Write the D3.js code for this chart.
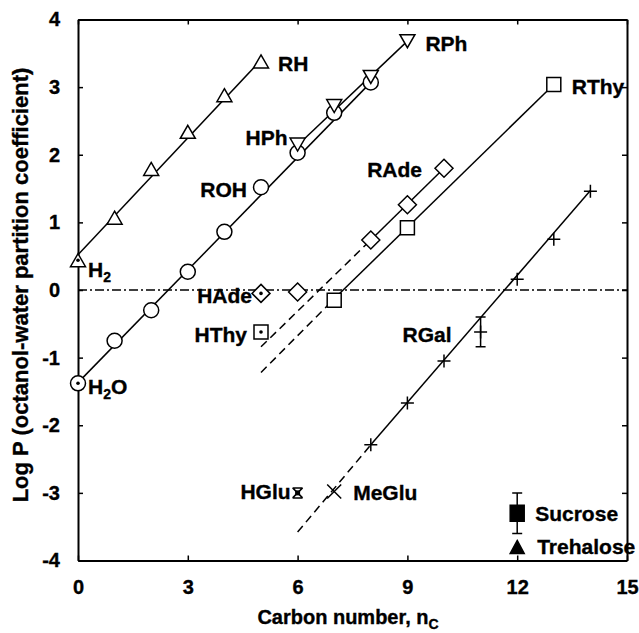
<!DOCTYPE html>
<html>
<head>
<meta charset="utf-8">
<script src="https://cdn.jsdelivr.net/npm/d3@7"></script>
<style>
body { margin: 0; background: #fff; }
text { font-family: "Liberation Sans", Arial, sans-serif; font-weight: bold; fill: #000; stroke: #000; stroke-width: 0.35; }
</style>
</head>
<body>
<div id="container"></div>
<script>
const width = 639;
const height = 633;

// log P values, by carbon number
const rhC = [0, 1, 2, 3, 4, 5];
const rhLogP = [0.44, 1.07, 1.79, 2.34, 2.88, 3.38];
const rohC = [0, 1, 2, 3, 4, 5, 6, 7, 8];
const rohLogP = [-1.38, -0.75, -0.30, 0.27, 0.86, 1.52, 2.03, 2.62, 3.07];
const rphC = [6, 7, 8, 9];
const rphLogP = [2.15, 2.72, 3.15, 3.68];
const radeC = [5, 6, 8, 9, 10];
const radeLogP = [-0.05, -0.03, 0.74, 1.26, 1.80];
const rthyC = [5, 7, 9, 13];
const rthyLogP = [-0.62, -0.15, 0.92, 3.04];
const rgalC = [8, 9, 10, 11, 12, 13, 14];
const rgalLogP = [-2.29, -1.67, -1.05, -0.62, 0.16, 0.75, 1.46];
const rgalErr = [0, 0, 0, 0.22, 0, 0, 0];
const hgluC = [6];
const hgluLogP = [-3.0];
const megluC = [7];
const megluLogP = [-2.98];
const sugarNames = ["Sucrose", "Trehalose"];
const sugarC = [12, 12];
const sugarLogP = [-3.30, -3.80];
const sugarErr = [0.30, 0];

// fitted lines [carbon number, log P] end points
const rhFit = [[0, 0.52], [5, 3.40]];
const rohFit = [[0, -1.37], [8, 3.07]];
const rphFit = [[6, 2.14], [9, 3.68]];
const radeFit = [[8, 0.74], [10, 1.80]];
const radeExt = [[5, -0.84], [8, 0.74]];
const rthyFit = [[7, -0.13], [13, 3.04]];
const rthyExt = [[5, -1.22], [7, -0.13]];
const rgalFit = [[8, -2.29], [14, 1.47]];
const rgalExt = [[6, -3.58], [8, -2.29]];

const xTicks = [0, 3, 6, 9, 12, 15];
const yTicks = [-4, -3, -2, -1, 0, 1, 2, 3, 4];

const x = d3.scaleLinear().domain([0, 15]).range([78, 627]);
const y = d3.scaleLinear().domain([-4, 4]).range([560.5, 19.5]);

let svg = d3.select("#container")
	.append("svg")
	.attr("width", width)
	.attr("height", height);

// axes, ticks pointing inward on all four sides
function styleAxis(g) {
	g.select(".domain").attr("stroke", "#000").attr("stroke-width", 2);
	g.selectAll(".tick line").attr("stroke", "#000").attr("stroke-width", 1.5);
	g.selectAll(".tick text").attr("font-size", 20).attr("font-family", null);
}

// plain hyphen for negatives, as in the original
const fmt = function(d) { return String(d); };

svg.append("g")
	.attr("transform", "translate(0," + y(-4) + ")")
	.call(d3.axisBottom(x).tickValues(xTicks).tickFormat(fmt).tickSizeInner(-5).tickSizeOuter(0).tickPadding(19))
	.call(styleAxis);
svg.append("g")
	.attr("transform", "translate(0," + y(4) + ")")
	.call(d3.axisTop(x).tickValues(xTicks).tickSizeInner(-5).tickSizeOuter(0).tickFormat(""))
	.call(styleAxis);
svg.append("g")
	.attr("transform", "translate(" + x(0) + ",0)")
	.call(d3.axisLeft(y).tickValues(yTicks).tickFormat(fmt).tickSizeInner(-5).tickSizeOuter(0).tickPadding(18))
	.call(styleAxis);
svg.append("g")
	.attr("transform", "translate(" + x(15) + ",0)")
	.call(d3.axisRight(y).tickValues(yTicks).tickSizeInner(-5).tickSizeOuter(0).tickFormat(""))
	.call(styleAxis);

// axis titles
let xTitle = svg.append("text")
	.attr("x", 348)
	.attr("y", 624)
	.attr("text-anchor", "middle")
	.attr("font-size", 20);
xTitle.append("tspan").text("Carbon number, n");
xTitle.append("tspan").attr("font-size", 14).attr("dy", 5).text("C");

svg.append("text")
	.attr("transform", "translate(28,285) rotate(-90)")
	.attr("text-anchor", "middle")
	.attr("font-size", 22)
	.text("Log P (octanol-water partition coefficient)");

// log P = 0 reference
svg.append("line")
	.attr("x1", x(0)).attr("x2", x(15))
	.attr("y1", y(0)).attr("y2", y(0))
	.attr("stroke", "#000")
	.attr("stroke-width", 1.3)
	.attr("stroke-dasharray", "9,3,2,3");

const line = d3.line()
	.x(function(d) { return x(d[0]); })
	.y(function(d) { return y(d[1]); });

[rhFit, rohFit, rphFit, radeFit, rthyFit, rgalFit].forEach(function(f) {
	svg.append("path").attr("d", line(f))
		.attr("fill", "none").attr("stroke", "#000").attr("stroke-width", 1.5);
});
[radeExt, rthyExt, rgalExt].forEach(function(f) {
	svg.append("path").attr("d", line(f))
		.attr("fill", "none").attr("stroke", "#000").attr("stroke-width", 1.5)
		.attr("stroke-dasharray", "8,5");
});

// marker shapes
const shapes = {
	triUp: "M0,-6.5L7.5,6.5L-7.5,6.5Z",
	triDown: "M-7.5,-6.5L7.5,-6.5L0,6.5Z",
	circle: "M7.5,0A7.5,7.5 0 1,1 -7.5,0A7.5,7.5 0 1,1 7.5,0Z",
	square: "M-7,-7H7V7H-7Z",
	diamond: "M0,-9L9,0L0,9L-9,0Z",
	plus: "M-6.5,0H6.5M0,-6.5V6.5",
	cross: "M-7,-7L7,7M7,-7L-7,7",
	hourglass: "M-5,-5H5M-5,5H5M-5,-5L5,5M5,-5L-5,5",
	fillSquare: "M-7,-8H7V8H-7Z",
	fillTri: "M0,-6.5L7,6.5L-7,6.5Z"
};

function drawMarkers(cs, ps, shape, dotted, filled) {
	cs.forEach(function(c, i) {
		let g = svg.append("g")
			.attr("transform", "translate(" + x(c) + "," + y(ps[i]) + ")");
		g.append("path")
			.attr("d", shapes[shape])
			.attr("fill", filled ? "#000" : "#fff")
			.attr("stroke", "#000")
			.attr("stroke-width", 1.5);
		if (dotted.indexOf(c) >= 0) {
			g.append("circle").attr("r", 1.8).attr("fill", "#000");
		}
	});
}

function drawErrors(cs, ps, es) {
	cs.forEach(function(c, i) {
		if (!es[i]) return;
		let cx = x(c);
		svg.append("path")
			.attr("d", "M" + cx + "," + y(ps[i] - es[i]) + "V" + y(ps[i] + es[i]) +
				"M" + (cx - 5) + "," + y(ps[i] - es[i]) + "H" + (cx + 5) +
				"M" + (cx - 5) + "," + y(ps[i] + es[i]) + "H" + (cx + 5))
			.attr("fill", "none").attr("stroke", "#000").attr("stroke-width", 1.5);
	});
}

drawMarkers(rhC, rhLogP, "triUp", [0]);
drawMarkers(rohC, rohLogP, "circle", [0]);
drawMarkers(rphC, rphLogP, "triDown", []);
drawMarkers(radeC, radeLogP, "diamond", [5]);
drawMarkers(rthyC, rthyLogP, "square", [5]);
drawErrors(rgalC, rgalLogP, rgalErr);
drawMarkers(rgalC, rgalLogP, "plus", []);
drawMarkers(megluC, megluLogP, "cross", []);
drawMarkers(hgluC, hgluLogP, "hourglass", []);
svg.append("rect")
	.attr("x", x(hgluC[0]) - 2.5).attr("y", y(hgluLogP[0]) - 2.5)
	.attr("width", 5).attr("height", 5).attr("fill", "#000");
drawErrors(sugarC, sugarLogP, sugarErr);
drawMarkers([sugarC[0]], [sugarLogP[0]], "fillSquare", [], true);
drawMarkers([sugarC[1]], [sugarLogP[1]], "fillTri", [], true);

// series labels: text, anchor point, pixel offset, alignment
const labels = [
	{t: ["RH"], c: 5, p: 3.38, dx: 17, dy: 2, a: "start"},
	{t: ["RPh"], c: 9, p: 3.68, dx: 18, dy: 2, a: "start"},
	{t: ["HPh"], c: 6, p: 2.15, dx: -10, dy: -7, a: "end"},
	{t: ["ROH"], c: 5, p: 1.52, dx: -14, dy: 2, a: "end"},
	{t: ["RThy"], c: 13, p: 3.04, dx: 18, dy: 2, a: "start"},
	{t: ["RAde"], c: 10, p: 1.80, dx: -22, dy: 1, a: "end"},
	{t: ["H", "2"], c: 0, p: 0.44, dx: 10, dy: 9, a: "start"},
	{t: ["HAde"], c: 5, p: -0.05, dx: -9, dy: 2, a: "end"},
	{t: ["HThy"], c: 5, p: -0.62, dx: -14, dy: 3, a: "end"},
	{t: ["H", "2", "O"], c: 0, p: -1.38, dx: 10, dy: 3, a: "start"},
	{t: ["RGal"], c: 11, p: -0.62, dx: -29, dy: 3, a: "end"},
	{t: ["HGlu"], c: 6, p: -3.0, dx: -7, dy: -1, a: "end"},
	{t: ["MeGlu"], c: 7, p: -2.98, dx: 19, dy: 1, a: "start"},
	{t: [sugarNames[0]], c: 12, p: sugarLogP[0], dx: 18, dy: 0, a: "start"},
	{t: [sugarNames[1]], c: 12, p: sugarLogP[1], dx: 20, dy: 0, a: "start"}
];

labels.forEach(function(l) {
	let txt = svg.append("text")
		.attr("x", x(l.c) + l.dx)
		.attr("y", y(l.p) + l.dy + 7.5)
		.attr("text-anchor", l.a)
		.attr("font-size", 21);
	txt.append("tspan").text(l.t[0]);
	if (l.t.length > 1) {
		txt.append("tspan").attr("font-size", 14).attr("dy", 5).text(l.t[1]);
	}
	if (l.t.length > 2) {
		txt.append("tspan").attr("dy", -5).text(l.t[2]);
	}
});
</script>
</body>
</html>
